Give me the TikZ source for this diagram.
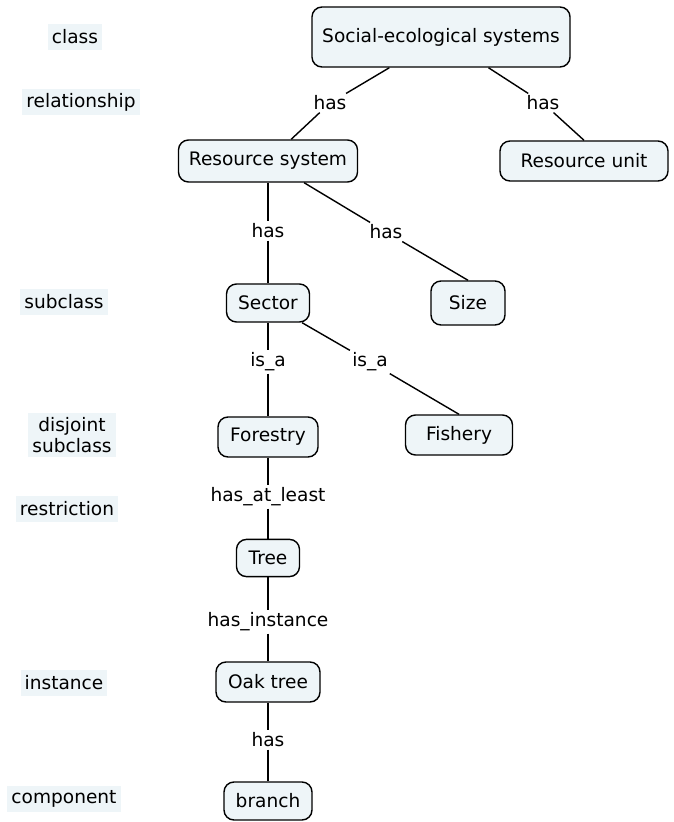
\documentclass[tikz,border=0pt]{standalone}
\usepackage{fontspec}
\setmainfont{DejaVu Sans}
\usetikzlibrary{positioning}
\definecolor{cmapfill}{RGB}{238,245,248}

\begin{document}
\begin{tikzpicture}[x=0.025cm,y=-0.025cm,font=\fontsize{13.2}{15.5}\selectfont]
  \tikzstyle{concept}=[draw,rounded corners=0.25cm,fill=cmapfill,line width=1pt,inner xsep=0.2cm,minimum height=1cm]
  \tikzstyle{link}=[fill=white,inner sep=1.5pt]
  \tikzstyle{legend}=[fill=cmapfill,inner sep=0.1cm,minimum height=0.65cm,align=center]
  \useasboundingbox (0,0) rectangle (674,822);

  % legend column
  \node[legend] (lclass) at (75,37) {class};
  \node[legend] (lrel) at (81,102) {relationship};
  \node[legend] (lsub) at (64,302) {subclass};
  \node[legend] (ldisj) at (72,435) {disjoint\\subclass};
  \node[legend] (lrestr) at (67,509) {restriction};
  \node[legend] (linst) at (64,683) {instance};
  \node[legend] (lcomp) at (64,799) {component};

  % concepts
  \node[concept,minimum height=1.5cm,minimum width=6.45cm] (ses) at (441,37) {Social-ecological systems};
  \node[concept,minimum height=1.05cm,minimum width=4.475cm] (rs) at (268,161) {Resource system};
  \node[concept,minimum width=4.2cm] (ru) at (584,161) {Resource unit};
  \node[concept,minimum height=0.95cm,minimum width=2.075cm] (sector) at (268,303) {Sector};
  \node[concept,minimum height=1.1cm,minimum width=1.85cm] (size) at (468,303) {Size};
  \node[concept,minimum width=2.5cm] (forestry) at (268,437) {Forestry};
  \node[concept,minimum width=2.675cm] (fishery) at (459,435) {Fishery};
  \node[concept,minimum height=0.93cm,minimum width=1.575cm] (tree) at (268,558) {Tree};
  \node[concept,minimum width=2.6cm] (oak) at (268,682) {Oak tree};
  \node[concept,minimum height=0.95cm,minimum width=2.2cm] (branch) at (268,801) {branch};

  % linking phrases
  \node[link] (hasA) at (330,103) {has};
  \node[link] (hasB) at (543,103) {has};
  \node[link] (hasC) at (268,231) {has};
  \node[link] (hasD) at (386,232) {has};
  \node[link] (isaA) at (268,362) {is\_a};
  \node[link] (isaB) at (370,362) {is\_a};
  \node[link] (atleast) at (268,497) {has\_at\_least};
  \node[link] (inst) at (268,622) {has\_instance};
  \node[link] (hasE) at (268,740) {has};

  \begin{scope}[line width=1pt]
    \draw (ses) -- (hasA) -- (rs);
    \draw (ses) -- (hasB) -- (ru.north);
    \draw (rs) -- (hasC) -- (sector);
    \draw (rs) -- (hasD) -- (size.north);
    \draw (sector) -- (isaA) -- (forestry);
    \draw (sector) -- (isaB) -- (fishery.north);
    \draw (forestry) -- (atleast) -- (tree);
    \draw (tree) -- (inst) -- (oak);
    \draw (oak) -- (hasE) -- (branch);
  \end{scope}
\end{tikzpicture}
\end{document}
